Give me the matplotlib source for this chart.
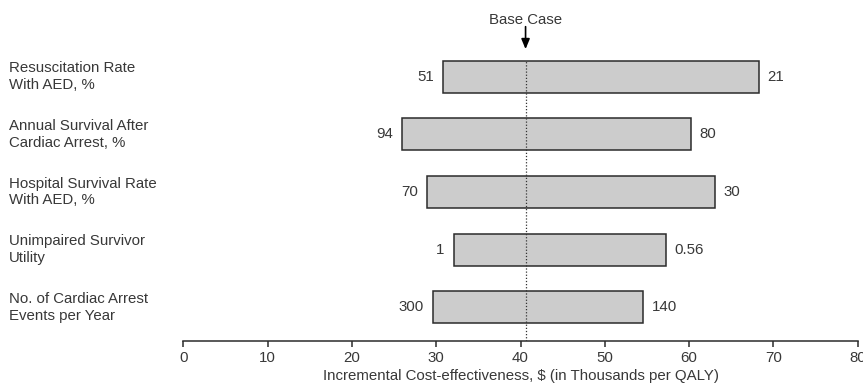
import matplotlib
matplotlib.use("Agg")
import matplotlib.pyplot as plt
import matplotlib.transforms as mtransforms

plt.rcParams['font.family'] = ['Liberation Sans', 'DejaVu Sans']

parameters = ["Resuscitation Rate\nWith AED, %",
              "Annual Survival After\nCardiac Arrest, %",
              "Hospital Survival Rate\nWith AED, %",
              "Unimpaired Survivor\nUtility",
              "No. of Cardiac Arrest\nEvents per Year"]
low_icer = [30.85, 26.0, 28.95, 32.15, 29.66]
high_icer = [68.26, 60.26, 63.07, 57.3, 54.57]
left_labels = ["51", "94", "70", "1", "300"]
right_labels = ["21", "80", "30", "0.56", "140"]
base_case = 40.6
xticks = [0, 10, 20, 30, 40, 50, 60, 70, 80]

TXT = '#383838'
FS = 10.8

fig = plt.figure(figsize=(8.63, 3.91), dpi=100)
ax = fig.add_axes([183.3 / 863, 1 - 341 / 391, 674.4 / 863, 341 / 391])

n = len(parameters)
ypos = [n - 1 - i for i in range(n)]
h = 0.556

for y, lo, hi, ll, rl, name in zip(ypos, low_icer, high_icer, left_labels, right_labels, parameters):
    ax.barh(y, hi - lo, left=lo, height=h, color='#cccccc', edgecolor='#2b2b2b', linewidth=1.1, zorder=2)
    ax.annotate(ll, (lo, y), xytext=(-7, 0), textcoords='offset points', ha='right', va='center', fontsize=FS, color=TXT)
    ax.annotate(rl, (hi, y), xytext=(6, 0), textcoords='offset points', ha='left', va='center', fontsize=FS, color=TXT)
    trans = mtransforms.blended_transform_factory(fig.transFigure, ax.transData)
    ax.text(9 / 863, y, name, transform=trans, ha='left', va='center', fontsize=FS, color=TXT, linespacing=1.25)

ax.set_xlim(0, 80)
ax.set_ylim(-0.587, 5.333)
top_bar = ypos[0] + h / 2
ax.plot([base_case, base_case], [-0.587, top_bar], linestyle=(0, (1, 1.5)), color='#333333', linewidth=0.9, zorder=3)

ax.annotate("", xy=(base_case, 4.48), xytext=(base_case, 4.87),
            arrowprops=dict(arrowstyle='-|>,head_length=0.6,head_width=0.25', color='black', lw=1.2,
                            shrinkA=0, shrinkB=0))
ax.text(base_case, 4.916, "Base Case", ha='center', va='baseline', fontsize=FS, color=TXT)

for s in ['top', 'right', 'left']:
    ax.spines[s].set_visible(False)
ax.spines['bottom'].set_color('#2b2b2b')
ax.spines['bottom'].set_linewidth(1.1)
ax.set_yticks([])
ax.set_xticks(xticks)
ax.set_xticklabels([str(t) for t in xticks])
ax.tick_params(axis='x', direction='out', length=4, width=1.1, colors='#2b2b2b', labelsize=FS, labelcolor=TXT, pad=3)
ax.set_xlabel(r"Incremental Cost-effectiveness, \$ (in Thousands per QALY)", fontsize=FS, color=TXT, labelpad=3)
ax.patch.set_visible(False)

fig.savefig("out.png", dpi=100)
